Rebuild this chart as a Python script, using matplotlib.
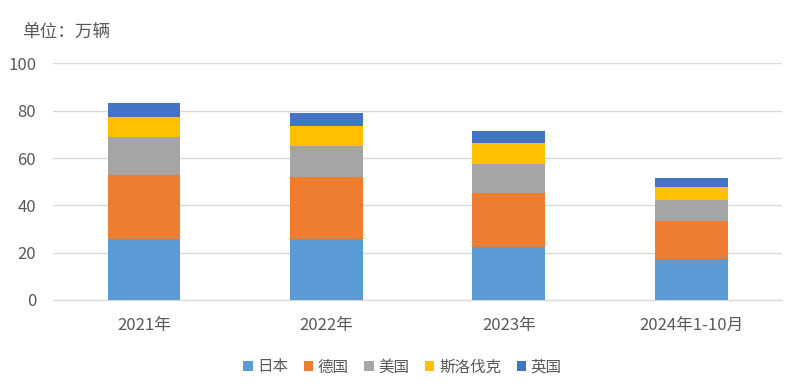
import matplotlib
matplotlib.use("Agg")
import matplotlib.pyplot as plt
import numpy as np

plt.rcParams['font.family'] = ['Noto Sans CJK SC', 'DejaVu Sans']

categories = ["2021年", "2022年", "2023年", "2024年1-10月"]
series_names = ["日本", "德国", "美国", "斯洛伐克", "英国"]
japan = [25.8, 25.8, 22.3, 17.2]
germany = [27.0, 26.0, 23.0, 16.3]
usa = [15.9, 13.4, 12.2, 8.7]
slovakia = [8.5, 8.4, 8.7, 5.4]
uk = [5.9, 5.5, 5.3, 4.1]
colors = ["#5B9BD5", "#ED7D31", "#A5A5A5", "#FFC000", "#4472C4"]

text_c = "#595959"

fig = plt.figure(figsize=(8, 3.89), dpi=100, facecolor="white")
ax = fig.add_axes([0.066, 0.229, 0.912, 0.608])

x = np.arange(len(categories))
bottom = np.zeros(len(categories))
for name, vals, c in zip(series_names, [japan, germany, usa, slovakia, uk], colors):
    ax.bar(x, vals, width=0.4, bottom=bottom, color=c, label=name, zorder=3)
    bottom += np.array(vals)

ax.set_xlim(-0.5, 3.5)
ax.set_ylim(0, 100)
ax.set_yticks([0, 20, 40, 60, 80, 100])
ax.set_xticks(x)
ax.set_xticklabels(categories)
ax.yaxis.grid(True, color="#D9D9D9", linewidth=1, zorder=0)
for s in ["top", "right", "left"]:
    ax.spines[s].set_visible(False)
ax.spines["bottom"].set_color("#D9D9D9")
ax.tick_params(axis="both", length=0, labelsize=12, colors=text_c)
ax.tick_params(axis="x", pad=12)
ax.tick_params(axis="y", pad=12)

fig.text(0.028, 0.918, "单位：万辆", fontsize=12.7, color=text_c, va="center")

leg = fig.legend(loc="center", bbox_to_anchor=(0.503, 0.057), ncol=5, frameon=False,
                 fontsize=11.2, handlelength=0.6, handleheight=0.6, handletextpad=0.3,
                 columnspacing=1.0, labelcolor=text_c)

fig.savefig("out.png", dpi=100, facecolor="white")
